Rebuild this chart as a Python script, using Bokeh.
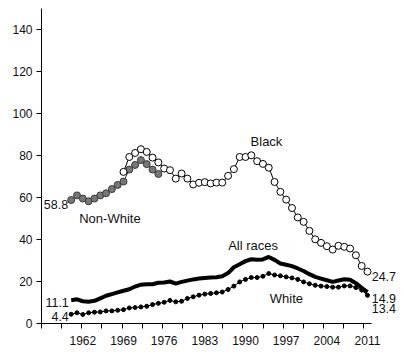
from bokeh.plotting import figure
from bokeh.models import Range1d, FixedTicker, Label
from bokeh.embed import file_html
from bokeh.resources import INLINE

# ---- data ----
years_all = list(range(1960, 2012))
all_races = [11.1, 11.5, 10.6, 10.4, 10.8, 12.0, 13.2, 14.0, 14.8, 15.6,
             16.3, 17.6, 18.5, 18.7, 18.7, 19.4, 19.5, 20.0, 19.0, 19.8,
             20.4, 21.0, 21.4, 21.7, 21.9, 22.0, 22.5, 24.0, 26.8, 28.2,
             29.7, 30.6, 30.4, 30.5, 31.7, 30.3, 28.6, 28.0, 27.3, 26.2,
             25.0, 23.5, 22.2, 21.4, 20.6, 19.8, 20.5, 21.1, 20.8, 19.2,
             17.0, 14.9]
white = [4.4, 5.1, 4.3, 5.1, 5.4, 5.5, 6.0, 6.0, 6.3, 6.6,
         7.4, 7.6, 7.9, 8.2, 9.0, 9.6, 10.1, 11.0, 10.3, 10.6,
         11.9, 12.7, 13.5, 14.0, 14.3, 14.6, 15.0, 16.2, 17.8, 19.8,
         21.0, 21.9, 21.9, 22.5, 23.8, 23.1, 22.7, 22.2, 21.7, 21.0,
         19.8, 18.9, 18.2, 17.8, 17.6, 17.3, 17.3, 17.9, 17.9, 17.1,
         15.9, 13.4]
years_nonwhite = list(range(1960, 1976))
non_white = [58.8, 61.0, 59.5, 58.2, 59.5, 61.0, 62.0, 64.0, 66.0, 67.6,
             73.3, 75.5, 77.8, 75.9, 73.3, 71.2]
years_black = list(range(1969, 2012))
black = [72.2, 79.3, 81.2, 83.0, 81.7, 79.0, 76.7, 73.8, 73.0, 69.0,
         71.4, 69.0, 66.2, 67.0, 67.3, 66.7, 67.1, 67.1, 70.3, 73.5,
         79.3, 79.3, 80.1, 77.3, 76.0, 74.2, 67.4, 62.7, 59.0, 55.0,
         50.5, 48.4, 44.1, 40.1, 38.4, 36.8, 35.2, 37.0, 36.5, 35.7,
         32.5, 27.4, 24.7]
tick_years = [1962, 1969, 1976, 1983, 1990, 1997, 2004, 2011]
y_ticks = [0, 20, 40, 60, 80, 100, 120, 140]

FONT = "Liberation Sans"
X0 = 1954.888          # left edge of the plotting area
X_AXIS_END = 2011.69   # where the drawn x-axis line stops

p = figure(width=396, height=350, output_backend="svg", toolbar_location=None,
           x_range=Range1d(X0, 2015.99), y_range=Range1d(0, 150),
           min_border_left=41, min_border_right=0, min_border_top=8,
           min_border_bottom=27)
p.outline_line_color = None
p.grid.visible = False
p.background_fill_color = "white"
p.border_fill_color = "white"

# x axis: tick marks every ~3.5 years, labels every 7 years
mark_pos = [X0 + 3.467 * k for k in range(17)]
p.xaxis.ticker = FixedTicker(ticks=tick_years, minor_ticks=mark_pos)
p.xaxis.bounds = (X0, X_AXIS_END)
p.xaxis.major_tick_line_color = None
p.xaxis.minor_tick_line_color = "black"
p.xaxis.minor_tick_in = 0
p.xaxis.minor_tick_out = 5
p.xaxis.major_tick_out = 5
p.xaxis.major_tick_in = 0
p.xaxis.major_label_standoff = 7

p.yaxis.ticker = FixedTicker(ticks=y_ticks)
p.yaxis.minor_tick_line_color = None
p.yaxis.major_tick_in = 0
p.yaxis.major_tick_out = 5
p.yaxis.major_label_standoff = 4

for ax in (p.xaxis, p.yaxis):
    ax.axis_line_color = "black"
    ax.axis_line_width = 1
    ax.major_label_text_font = FONT
    ax.major_label_text_font_size = "12px"
    ax.major_label_text_color = "#111111"

# All races: thick line
p.line(years_all, all_races, line_color="black", line_width=4)

# White: thin line with small dots
p.line(years_all, white, line_color="black", line_width=1)
p.scatter(years_all, white, size=4, marker="circle", fill_color="black",
          line_color="black")

# Non-White: gray filled circles
p.line(years_nonwhite, non_white, line_color="#333333", line_width=1)
p.scatter(years_nonwhite, non_white, size=7, marker="circle",
          fill_color="#777777", line_color="#3a3a3a", line_width=1)

# Black: open circles
p.line(years_black, black, line_color="black", line_width=1)
p.scatter(years_black, black, size=7, marker="circle", fill_color="white",
          line_color="black", line_width=1)

def lab(x, y, text, align="left", size="13px"):
    p.add_layout(Label(x=x, y=y, text=text, text_align=align,
                       text_baseline="alphabetic", text_font=FONT,
                       text_font_size=size, text_color="#111111"))

lab(1993.61, 86.5, "Black", "center")
lab(1961.38, 50.1, "Non-White")
lab(1987.02, 37.3, "All races")
lab(1994.18, 12.0, "White")
lab(1959.48, 56.5, f"{non_white[0]}", "right", "12.5px")
lab(1959.59, 9.8, f"{all_races[0]}", "right", "12.5px")
lab(1959.59, 3.5, f"{white[0]}", "right", "12.5px")
lab(2011.72, 22.5, f"{black[-1]}", "left", "12.5px")
lab(2011.72, 11.9, f"{all_races[-1]}", "left", "12.5px")
lab(2011.72, 7.1, f"{white[-1]}", "left", "12.5px")

open("out.html", "w").write(file_html(p, INLINE))
